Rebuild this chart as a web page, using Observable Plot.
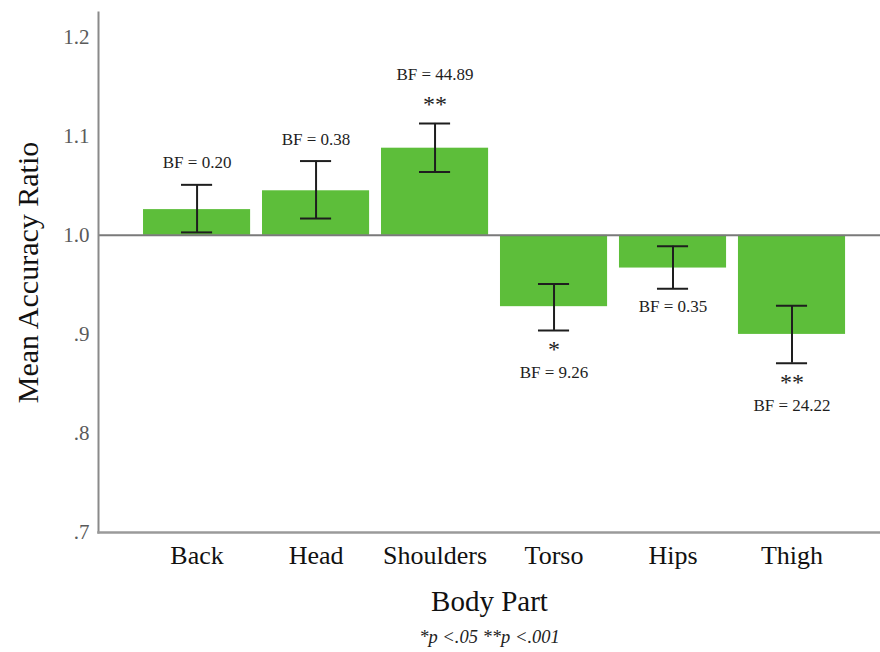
<!DOCTYPE html>
<html>
<head>
<meta charset="utf-8">
<script src="https://cdn.jsdelivr.net/npm/d3@7"></script>
<script src="https://cdn.jsdelivr.net/npm/@observablehq/plot@0.6"></script>
<style>
  html, body { margin: 0; padding: 0; background: #fff; }
  #chart svg { display: block; }
</style>
</head>
<body>
<div id="chart"></div>
<script>
// ---- data ----
const categories = ["Back", "Head", "Shoulders", "Torso", "Hips", "Thigh"];
const means      = [1.026, 1.045, 1.088, 0.928, 0.967, 0.900];
const errLow     = [1.003, 1.017, 1.064, 0.904, 0.946, 0.871];
const errHigh    = [1.051, 1.075, 1.113, 0.951, 0.989, 0.929];
const bfLabels   = ["BF = 0.20", "BF = 0.38", "BF = 44.89", "BF = 9.26", "BF = 0.35", "BF = 24.22"];
const stars      = ["", "", "**", "*", "", "**"];
const baseline   = 1.0;
const yTicks      = [0.7, 0.8, 0.9, 1.0, 1.1, 1.2];
const yTickLabels = [".7", ".8", ".9", "1.0", "1.1", "1.2"];
const yTitle = "Mean Accuracy Ratio";
const xTitle = "Body Part";
const captionText = "*p <.05 **p <.001";

const rows = categories.map((c, i) => ({
  cat: c, mean: means[i], lo: errLow[i], hi: errHigh[i],
  bf: bfLabels[i], star: stars[i], above: means[i] >= baseline
}));
const tickLabelMap = new Map(yTicks.map((t, i) => [t, yTickLabels[i]]));

const aboveNoStar = rows.filter(d => d.above && d.star === "");
const aboveStar   = rows.filter(d => d.above && d.star !== "");
const belowNoStar = rows.filter(d => !d.above && d.star === "");
const belowStar   = rows.filter(d => !d.above && d.star !== "");

const serif = "'Liberation Serif', 'Times New Roman', serif";
const ink = "#1e1e1e";

const chart = Plot.plot({
  width: 880,
  height: 652,
  marginLeft: 98,
  marginRight: 0,
  marginTop: 12,
  marginBottom: 120,
  style: { fontFamily: serif, background: "#fff", overflow: "visible" },
  x: { domain: categories, paddingInner: 0.1, paddingOuter: 0.336, align: 0.563, round: false, axis: null },
  y: { domain: [0.7, 1.225], axis: null },
  marks: [
    // bars from baseline
    Plot.barY(rows, { x: "cat", y1: () => baseline, y2: "mean", fill: "#5dbe3a" }),
    // baseline line
    Plot.ruleY([baseline], { stroke: "#7a7a7a", strokeWidth: 2 }),
    // axis lines
    Plot.frame({ anchor: "left", stroke: "#8a8a8a", strokeWidth: 2 }),
    Plot.frame({ anchor: "bottom", stroke: "#9a9a9a", strokeWidth: 2.5 }),
    // error bars
    Plot.ruleX(rows, { x: "cat", y1: "lo", y2: "hi", stroke: ink, strokeWidth: 2 }),
    Plot.tickY(rows, { x: "cat", y: "lo", stroke: ink, strokeWidth: 2, insetLeft: 38, insetRight: 38 }),
    Plot.tickY(rows, { x: "cat", y: "hi", stroke: ink, strokeWidth: 2, insetLeft: 38, insetRight: 38 }),
    // annotations above
    Plot.text(aboveStar, { x: "cat", y: "hi", text: "star", dy: -19, fontSize: 24, fill: ink }),
    Plot.text(aboveStar, { x: "cat", y: "hi", text: "bf", dy: -49, fontSize: 17, fill: ink }),
    Plot.text(aboveNoStar, { x: "cat", y: "hi", text: "bf", dy: -22, fontSize: 17, fill: ink }),
    // annotations below
    Plot.text(belowStar, { x: "cat", y: "lo", text: "star", dy: 19, fontSize: 24, fill: ink }),
    Plot.text(belowStar, { x: "cat", y: "lo", text: "bf", dy: 42, fontSize: 17, fill: ink }),
    Plot.text(belowNoStar, { x: "cat", y: "lo", text: "bf", dy: 18, fontSize: 17, fill: ink }),
    // y axis tick labels
    Plot.axisY(yTicks, { ticks: yTicks, tickSize: 0, tickPadding: 9, tickFormat: d => tickLabelMap.get(d),
      fontSize: 21, fill: "#5a5a5a", label: null }),
    // x axis tick labels
    Plot.axisX({ tickSize: 0, tickPadding: 13, fontSize: 26, fill: "#111", label: null }),
    // titles
    Plot.text([yTitle], { frameAnchor: "left", textAnchor: "middle", dx: -70, rotate: -90, fontSize: 30, fill: "#111" }),
    Plot.text([xTitle], { frameAnchor: "bottom", dy: 78, fontSize: 29, fill: "#111" }),
    Plot.text([captionText], { frameAnchor: "bottom", dy: 110, fontSize: 18.5, fontStyle: "italic", fill: "#222" })
  ]
});

document.getElementById("chart").appendChild(chart);
</script>
</body>
</html>
